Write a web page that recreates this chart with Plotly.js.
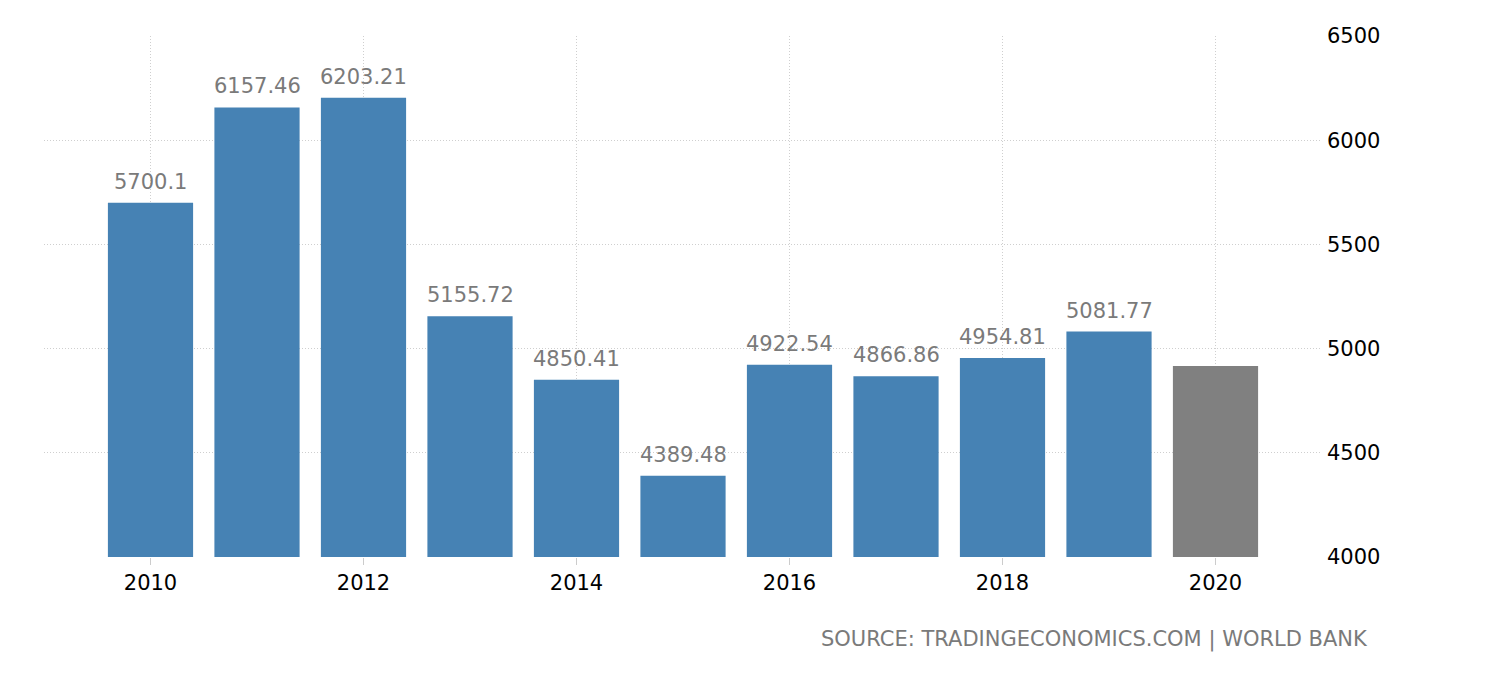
<!DOCTYPE html>
<html>
<head>
<meta charset="utf-8">
<script src="https://cdn.plot.ly/plotly-3.0.1.min.js"></script>
<style>html,body{margin:0;padding:0;background:#fff;}#chart{width:1494px;height:676px;}</style>
</head>
<body>
<div id="chart"></div>
<script>
const years = [2010, 2011, 2012, 2013, 2014, 2015, 2016, 2017, 2018, 2019, 2020];
const values = [5700.1, 6157.46, 6203.21, 5155.72, 4850.41, 4389.48, 4922.54, 4866.86, 4954.81, 5081.77, 4916];
const labels = ["5700.1", "6157.46", "6203.21", "5155.72", "4850.41", "4389.48", "4922.54", "4866.86", "4954.81", "5081.77", ""];
const barColors = ["#4682b4","#4682b4","#4682b4","#4682b4","#4682b4","#4682b4","#4682b4","#4682b4","#4682b4","#4682b4","#808080"];
const yTicks = [4000, 4500, 5000, 5500, 6000, 6500];
const sourceText = "SOURCE: TRADINGECONOMICS.COM | WORLD BANK";

const font = "DejaVu Sans, Verdana, sans-serif";

const annotations = years.map((y, i) => ({
  x: y, y: values[i], text: labels[i], showarrow: false,
  xanchor: 'center', yanchor: 'bottom', yshift: 7,
  font: {family: font, size: 21, color: '#7a7a7a'}
})).filter(a => a.text !== "");
annotations.push({
  xref: 'paper', yref: 'paper', x: 1.0375, y: -0.158, xanchor: 'right', yanchor: 'middle',
  text: sourceText, showarrow: false,
  font: {family: font, size: 21, color: '#7a7a7a'}
});

Plotly.newPlot('chart', [{
  type: 'bar', x: years, y: values,
  marker: {color: barColors},
  hoverinfo: 'x+y'
}], {
  width: 1494, height: 676,
  margin: {l: 44, r: 172, t: 36, b: 119},
  paper_bgcolor: '#fff', plot_bgcolor: '#fff',
  bargap: 0.2,
  showlegend: false,
  xaxis: {
    range: [2009, 2021], tickmode: 'array', tickvals: [2010, 2012, 2014, 2016, 2018, 2020],
    ticktext: ['2010','2012','2014','2016','2018','2020'],
    showgrid: true, gridcolor: '#cfcfcf', griddash: '1px,2px', gridwidth: 1,
    ticks: 'outside', ticklen: 7, tickcolor: '#cccccc', tickwidth: 1,
    showline: false, zeroline: false,
    tickfont: {family: font, size: 21, color: '#000'}
  },
  yaxis: {
    side: 'right', range: [4000, 6500], tickvals: yTicks,
    showgrid: true, gridcolor: '#cfcfcf', griddash: '1px,2px', gridwidth: 1,
    zeroline: false, showline: false, ticks: '', ticklabelstandoff: 4,
    tickfont: {family: font, size: 21, color: '#000'}
  },
  annotations: annotations
}, {displayModeBar: false, staticPlot: true});
</script>
</body>
</html>
